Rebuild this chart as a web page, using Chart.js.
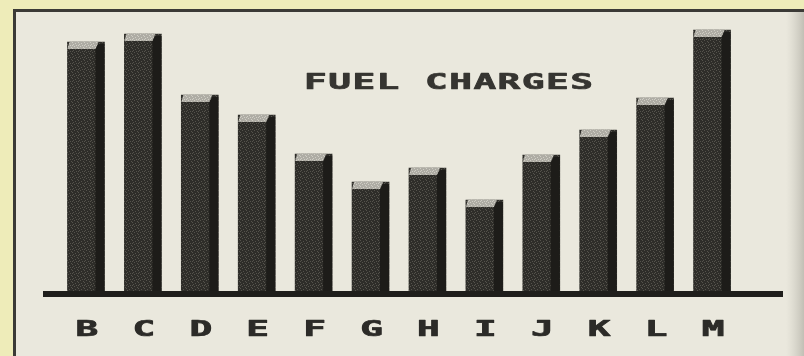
<!DOCTYPE html>
<html>
<head>
<meta charset="utf-8">
<title>Fuel Charges</title>
<script src="https://cdn.jsdelivr.net/npm/chart.js@4.4.1/dist/chart.umd.min.js"></script>
<style>
  html, body { margin: 0; padding: 0; background: #eeecb9; }
  canvas { display: block; }
</style>
</head>
<body>
<canvas id="fuelChart" width="804" height="356"></canvas>
<script>
const categories = ['B', 'C', 'D', 'E', 'F', 'G', 'H', 'I', 'J', 'K', 'L', 'M'];
const charges = [251, 259, 198, 178, 139, 111, 125, 93, 138, 163, 195, 263];
const chartTitle = 'FUEL CHARGES';
const yMax = 280;

// small dotted tile so the bar fronts look like printer shading
function shadeTile(base, dots, size) {
  const c = document.createElement('canvas');
  c.width = size; c.height = size;
  const g = c.getContext('2d');
  g.fillStyle = base;
  g.fillRect(0, 0, size, size);
  g.fillStyle = dots;
  const spots = [[0,0],[3,1],[1,2],[4,3],[2,4],[5,5],[0,3]];
  spots.forEach(p => { if (p[0] < size && p[1] < size) g.fillRect(p[0], p[1], 1, 1); });
  return g.createPattern(c, 'repeat');
}

const ctx = document.getElementById('fuelChart').getContext('2d');
const frontFill = shadeTile('#2e2d29', '#55534c', 6);
const capFill = shadeTile('#aeaca4', '#d0cec5', 6);

// paper, frame
const paper = {
  id: 'paper',
  beforeDraw(chart) {
    const c = chart.ctx;
    c.save();
    c.fillStyle = '#eeecb9';
    c.fillRect(0, 0, chart.width, chart.height);
    c.fillStyle = '#eae8dd';
    c.fillRect(15, 11, chart.width - 15, chart.height - 11);
    const edge = c.createLinearGradient(786, 0, 804, 0);
    edge.addColorStop(0, 'rgba(200,198,188,0)');
    edge.addColorStop(1, 'rgba(175,173,163,0.7)');
    c.fillStyle = edge;
    c.fillRect(786, 11, 18, chart.height - 11);
    c.strokeStyle = '#3b3a36';
    c.lineWidth = 3;
    c.beginPath();
    c.moveTo(14.5, chart.height);
    c.lineTo(14.5, 10.5);
    c.lineTo(chart.width, 10.5);
    c.stroke();
    c.restore();
  }
};

// heavy printer lettering: fill plus a thin outline
function blockText(c, text, x, y, sx, colour) {
  c.save();
  c.translate(x, y);
  c.scale(sx, 1);
  c.fillStyle = colour;
  c.strokeStyle = colour;
  c.lineWidth = 0.7;
  c.lineJoin = 'round';
  c.fillText(text, 0, 0);
  c.strokeText(text, 0, 0);
  c.restore();
}

// 3d side + cap on each bar, baseline, letters, heading
const blocks = {
  id: 'blocks',
  afterDatasetsDraw(chart) {
    const c = chart.ctx;
    const meta = chart.getDatasetMeta(0);
    const xs = chart.scales.x;
    const base = chart.scales.y.getPixelForValue(0);
    c.save();
    meta.data.forEach(bar => {
      const left = bar.x - bar.width / 2;
      const right = bar.x + bar.width / 2;
      const top = bar.y;
      c.fillStyle = '#1d1c19';
      c.beginPath();
      c.moveTo(right - 9, top + 7);
      c.lineTo(right - 6, top + 2);
      c.lineTo(right, top + 2);
      c.lineTo(right, base);
      c.lineTo(right - 9, base);
      c.closePath();
      c.fill();
      c.fillStyle = capFill;
      c.beginPath();
      c.moveTo(left, top + 7);
      c.lineTo(left + 2, top);
      c.lineTo(right - 6, top);
      c.lineTo(right - 9, top + 7);
      c.closePath();
      c.fill();
    });

    c.fillStyle = '#1f1e1b';
    c.fillRect(43, base - 2, 740, 6);

    c.textBaseline = 'alphabetic';
    c.textAlign = 'center';
    c.font = 'bold 21px "DejaVu Sans Mono"';
    categories.forEach((label, i) => {
      blockText(c, label, xs.getPixelForValue(i) + 1, 335.5, 1.8, '#2c2b28');
    });

    c.textAlign = 'left';
    c.font = 'bold 21px "DejaVu Sans Mono"';
    c.letterSpacing = '0.8px';
    blockText(c, chartTitle, 304, 89, 1.8, '#363531');
    c.restore();
  }
};

const fuelChart = new Chart(ctx, {
  type: 'bar',
  data: {
    labels: categories,
    datasets: [{
      data: charges,
      backgroundColor: frontFill,
      borderWidth: 0,
      barThickness: 37
    }]
  },
  options: {
    responsive: false,
    animation: false,
    layout: { padding: { left: 57.5, right: 63.5, top: 13, bottom: 63 } },
    plugins: {
      legend: { display: false },
      tooltip: { enabled: false }
    },
    scales: {
      x: { display: false },
      y: { display: false, min: 0, max: yMax }
    }
  },
  plugins: [paper, blocks]
});
</script>
</body>
</html>
